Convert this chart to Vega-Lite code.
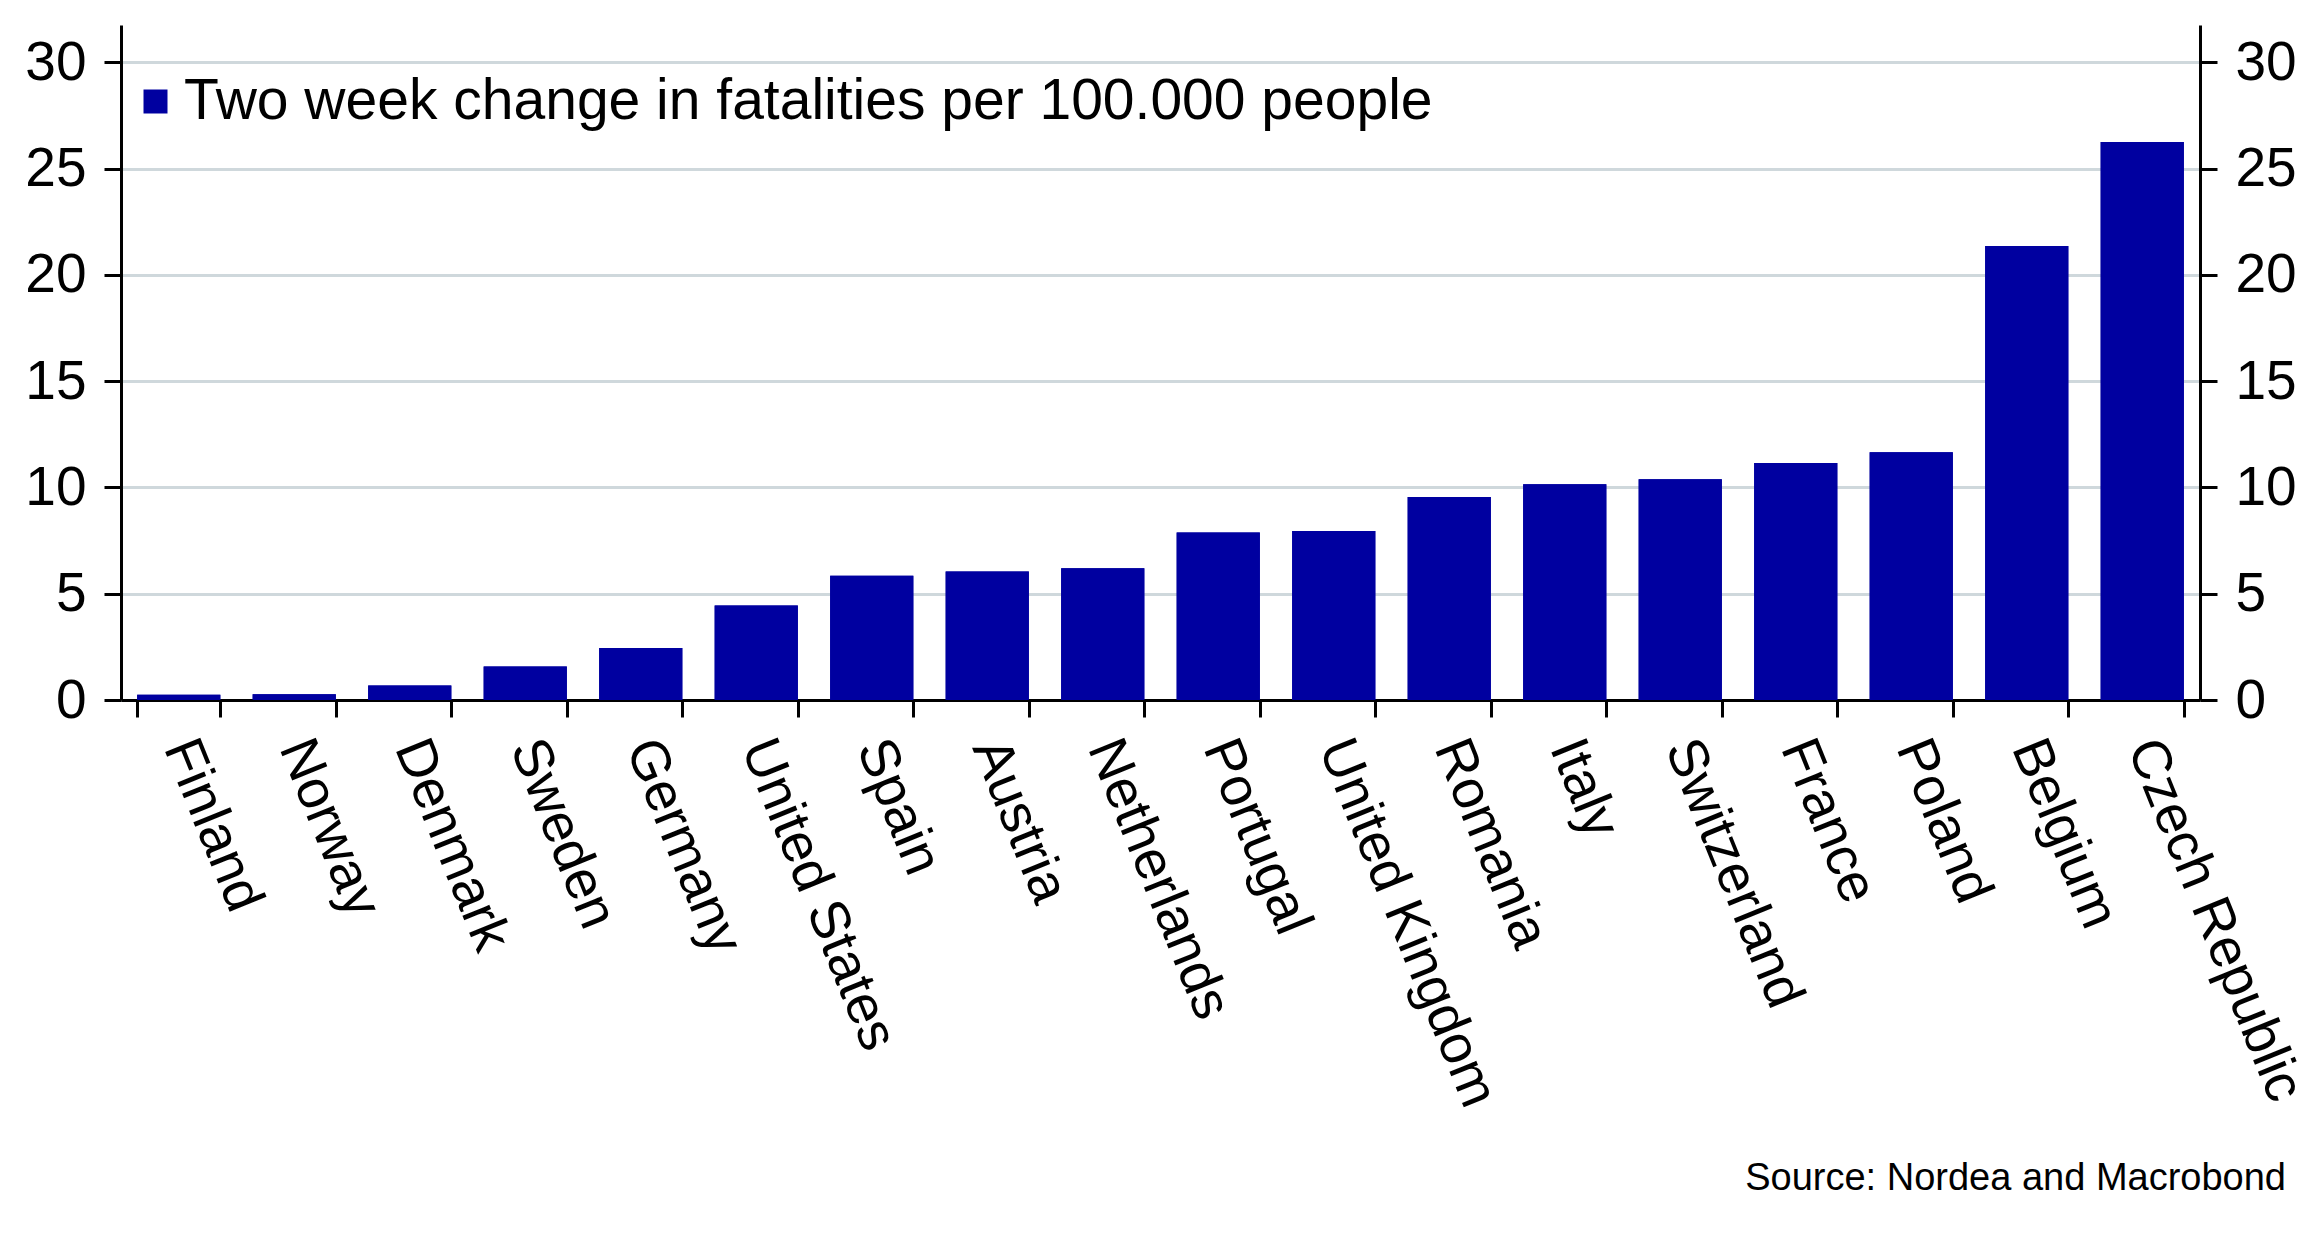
{
  "$schema": "https://vega.github.io/schema/vega-lite/v6.json",
  "width": 2079,
  "height": 675,
  "autosize": {"type": "none"},
  "padding": {"left": 121, "top": 25, "right": 120, "bottom": 535},
  "background": "white",
  "config": {"view": {"stroke": null}, "font": "Liberation Sans"},
  "title": {
    "text": "Source: Nordea and Macrobond",
    "orient": "bottom",
    "anchor": "end",
    "frame": "group",
    "fontSize": 38,
    "font": "Liberation Sans",
    "fontWeight": "normal",
    "color": "black",
    "offset": 46,
    "dx": 86
  },
  "data": {
    "values": [
      {"country": "Finland", "value": 0.25},
      {"country": "Norway", "value": 0.27},
      {"country": "Denmark", "value": 0.68},
      {"country": "Sweden", "value": 1.57},
      {"country": "Germany", "value": 2.45},
      {"country": "United States", "value": 4.45},
      {"country": "Spain", "value": 5.85},
      {"country": "Austria", "value": 6.05},
      {"country": "Netherlands", "value": 6.2},
      {"country": "Portugal", "value": 7.88},
      {"country": "United Kingdom", "value": 7.95},
      {"country": "Romania", "value": 9.55},
      {"country": "Italy", "value": 10.15},
      {"country": "Switzerland", "value": 10.38},
      {"country": "France", "value": 11.15},
      {"country": "Poland", "value": 11.65},
      {"country": "Belgium", "value": 21.35},
      {"country": "Czech Republic", "value": 26.25}
    ]
  },
  "encoding": {
    "x": {
      "field": "country",
      "type": "nominal",
      "sort": null,
      "scale": {"paddingInner": 0.28, "paddingOuter": 0.14},
      "axis": {
        "title": null,
        "tickBand": "extent",
        "labelAngle": 68,
        "labelAlign": "left",
        "labelBaseline": "middle",
        "labelFontSize": 55,
        "labelFont": "Liberation Sans",
        "labelColor": "black",
        "labelPadding": 24,
        "labelLimit": 0,
        "labelOverlap": false,
        "tickSize": 17,
        "tickWidth": 3,
        "tickColor": "black",
        "domainColor": "black",
        "domainWidth": 3,
        "grid": false
      }
    }
  },
  "layer": [
    {
      "mark": {"type": "bar", "color": "#0000a0"},
      "encoding": {
        "y": {
          "field": "value",
          "type": "quantitative",
          "scale": {"domain": [0, 31.75], "nice": false, "zero": true},
          "axis": {
            "orient": "left",
            "title": null,
            "values": [0, 5, 10, 15, 20, 25, 30],
            "grid": true,
            "gridColor": "#cfd8dc",
            "gridWidth": 3,
            "domainColor": "black",
            "domainWidth": 3,
            "tickColor": "black",
            "tickWidth": 3,
            "tickSize": 17,
            "labelFontSize": 55,
            "labelFont": "Liberation Sans",
            "labelColor": "black",
            "labelPadding": 18
          }
        },
        "color": {
          "datum": "Two week change in fatalities per 100.000 people",
          "type": "nominal",
          "scale": {"range": ["#0000a0"]},
          "legend": {
            "orient": "none",
            "legendX": 6,
            "legendY": 48,
            "title": null,
            "symbolType": "square",
            "symbolSize": 576,
            "symbolStrokeWidth": 0,
            "labelFontSize": 57,
            "labelFont": "Liberation Sans",
            "labelColor": "black",
            "labelOffset": 0,
            "labelLimit": 0,
            "padding": 0
          }
        }
      }
    },
    {
      "mark": {"type": "bar", "color": "#0000a0"},
      "encoding": {
        "y": {
          "field": "value",
          "type": "quantitative",
          "scale": {"domain": [0, 31.75], "nice": false, "zero": true},
          "axis": {
            "orient": "right",
            "title": null,
            "values": [0, 5, 10, 15, 20, 25, 30],
            "grid": false,
            "domainColor": "black",
            "domainWidth": 3,
            "tickColor": "black",
            "tickWidth": 3,
            "tickSize": 17,
            "labelFontSize": 55,
            "labelFont": "Liberation Sans",
            "labelColor": "black",
            "labelPadding": 18
          }
        }
      }
    }
  ],
  "resolve": {"scale": {"y": "independent"}, "axis": {"y": "independent"}}
}
